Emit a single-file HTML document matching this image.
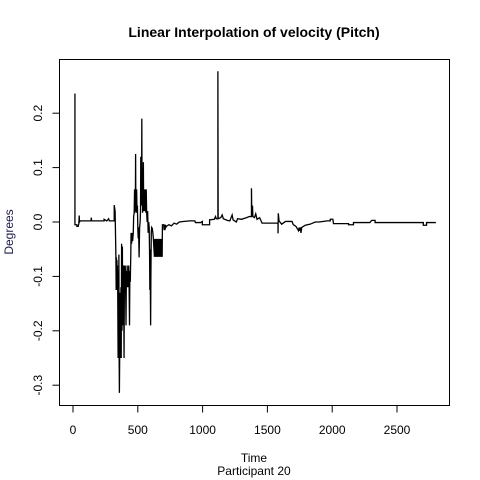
<!DOCTYPE html>
<html><head><meta charset="utf-8"><style>
body{margin:0;background:#fff}
svg{display:block;font-family:"Liberation Sans",Arial,sans-serif}
</style></head><body>
<svg id="chart" width="480" height="480">
<rect width="480" height="480" fill="#fff"/>
<text x="254" y="37" text-anchor="middle" font-size="14" font-weight="bold">Linear Interpolation of velocity (Pitch)</text>
<rect x="59.5" y="59.5" width="390" height="346" fill="none" stroke="#000"/>
<g id="xaxis"></g>
<g id="yaxis"></g>
<text x="254" y="462" text-anchor="middle" font-size="12">Time</text>
<text x="254" y="475" text-anchor="middle" font-size="12">Participant  20</text>
<text transform="translate(13,232) rotate(-90)" text-anchor="middle" font-size="12" fill="#1a1a4a">Degrees</text>
<g id="series"></g>
</svg>
<script>
const xTicks=[0,500,1000,1500,2000,2500];
const yTicks=[-0.3,-0.2,-0.1,0.0,0.1,0.2];
const yTickLabels=["-0.3","-0.2","-0.1","0.0","0.1","0.2"];
const times=[10,15,15,30,30,40,45,48,50,55,140,140,145,240,240,260,275,280,318,318,325,331,
333,335,337,339,341,343,345,348,350,352,354,356,358,360,362,364,366,368,370,372,375,378,381,384,
388,391,394,397,400,403,406,409,412,415,418,421,424,427,430,433,436,439,442,446,
448,452,456,460,465,468,472,475,477,479,481,483,485,487,489,491,494,497,
500,503,506,510,514,518,521,523,525,527,529,531,533,535,537,539,541,543,545,
548,550,553,556,559,562,565,568,572,576,580,584,588,591,
593,595,597,599,601,604,607,612,616,620,
628,631,634,637,640,643,646,649,652,655,658,661,664,667,670,673,676,679,682,685,688,690,
700,703,706,709,712,716,720,740,760,780,800,820,850,900,940,945,985,998,
998,1054,1054,1090,1100,1105,1118,1118,1120,1140,1151,1160,1190,1210,1228,1235,1260,1270,1300,1340,1360,1377,1377,1380,1385,1388,1400,1410,1420,1440,1459,1582,1582,1584,1590,1610,1640,1690,1700,1720,1730,1740,1745,1750,1755,1759,1765,1792,1830,1869,1900,1960,1985,1985,2005,2010,2126,2126,2164,2164,2290,2305,2331,2331,2703,2703,2728,2728,2800];
const values=[0.235,0.235,-0.005,-0.005,-0.008,-0.008,-0.003,0.012,0.0,0.002,0.002,0.008,0.002,0.002,0.005,0.002,0.006,0.002,0.002,0.031,0.02,-0.065,
-0.125,-0.065,-0.125,-0.07,-0.125,-0.08,-0.125,-0.25,-0.13,-0.25,-0.06,-0.25,-0.314,-0.25,-0.13,-0.25,-0.2,-0.25,-0.12,-0.25,-0.04,-0.2,-0.045,-0.19,
-0.08,-0.12,-0.25,-0.08,-0.12,-0.08,-0.12,-0.19,-0.09,-0.12,-0.08,-0.12,-0.1,-0.12,-0.08,-0.12,-0.19,-0.09,-0.11,-0.06,
-0.02,-0.04,-0.02,-0.035,-0.02,0.01,0.017,0.06,0.017,0.06,0.02,0.125,0.02,0.06,0.017,0.06,0.02,0.03,
-0.01,-0.03,-0.01,-0.065,-0.01,0.0,0.02,0.12,0.03,0.12,0.06,0.19,0.03,0.1,0.017,0.08,0.02,0.11,0.03,
0.06,0.02,0.06,0.02,0.06,0.017,0.06,0.02,0.0,0.02,-0.02,0.0,-0.01,-0.06,
-0.125,-0.05,-0.125,-0.19,-0.1,-0.02,-0.01,-0.012,-0.02,-0.03,
-0.064,-0.031,-0.064,-0.031,-0.064,-0.031,-0.064,-0.031,-0.064,-0.031,-0.064,-0.031,-0.064,-0.031,-0.064,-0.031,-0.064,-0.031,-0.064,-0.031,-0.064,-0.005,
-0.005,-0.015,-0.005,-0.015,-0.005,-0.01,-0.008,-0.005,-0.007,-0.002,-0.004,0.0,0.001,0.002,0.002,-0.001,-0.001,0.001,
-0.005,-0.005,0.004,0.005,0.01,0.006,0.006,0.277,0.006,0.008,0.013,0.006,0.003,0.002,0.013,0.004,0.0,0.006,0.005,0.008,0.01,0.01,0.062,0.01,0.03,0.01,0.008,0.015,0.005,0.008,-0.002,-0.002,-0.021,0.016,0.002,-0.004,0.001,0.001,-0.005,-0.008,-0.012,-0.016,-0.01,-0.016,-0.01,-0.02,-0.01,-0.006,-0.004,0.0,0.0,0.002,0.002,0.005,0.005,-0.003,-0.003,-0.005,-0.005,-0.001,-0.001,0.003,0.003,-0.001,-0.001,-0.006,-0.006,-0.001,-0.001];
const NS="http://www.w3.org/2000/svg";
function xs(t){return 73+t*0.1296;}
function ys(v){return 222-v*544;}
const xa=document.getElementById('xaxis'),ya=document.getElementById('yaxis'),sg=document.getElementById('series');
xTicks.forEach(t=>{
 const l=document.createElementNS(NS,'line');
 l.setAttribute('x1',xs(t));l.setAttribute('x2',xs(t));l.setAttribute('y1',405.5);l.setAttribute('y2',412.5);l.setAttribute('stroke','#000');
 
 
 xa.appendChild(l);
 const tx=document.createElementNS(NS,'text');
 tx.setAttribute('x',xs(t));tx.setAttribute('y',434);tx.setAttribute('text-anchor','middle');tx.setAttribute('font-size','12');
 tx.textContent=String(t);
 
 
 xa.appendChild(tx);
});
yTicks.forEach((v,i)=>{
 const y=ys(v);
 const l=document.createElementNS(NS,'line');
 l.setAttribute('x1',52.5);l.setAttribute('x2',59.5);l.setAttribute('y1',y);l.setAttribute('y2',y);l.setAttribute('stroke','#000');
 
 
 ya.appendChild(l);
 const tx=document.createElementNS(NS,'text');
 tx.setAttribute('transform','translate(42,'+y+') rotate(-90)');tx.setAttribute('text-anchor','middle');tx.setAttribute('font-size','12');
 tx.textContent=yTickLabels[i];
 
 
 ya.appendChild(tx);
});
const p=document.createElementNS(NS,'polyline');
p.setAttribute('points',times.map((t,i)=>xs(t).toFixed(2)+','+ys(values[i]).toFixed(2)).join(' '));
p.setAttribute('fill','none');p.setAttribute('stroke','#000');p.setAttribute('stroke-width','1.3');


sg.appendChild(p);
</script>
</body></html>
